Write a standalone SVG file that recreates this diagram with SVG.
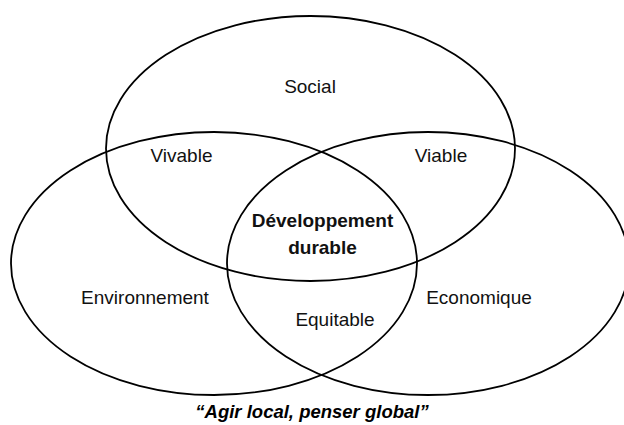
<svg xmlns="http://www.w3.org/2000/svg" width="624" height="425" viewBox="0 0 624 425">
  <style>
    .ring { fill: none; stroke: #000; stroke-width: 1.8; }
    .lbl { font-family: "Liberation Sans", Arial, sans-serif; font-size: 19px; fill: #111; text-anchor: middle; }
    .bold { font-weight: bold; }
    .quote { font-family: "Liberation Sans", Arial, sans-serif; font-size: 18.5px; font-weight: bold; font-style: italic; fill: #000; text-anchor: middle; }
  </style>
  <rect width="624" height="425" fill="#fff"/>
  <g id="social">
    <ellipse class="ring" cx="310.5" cy="148.5" rx="204.5" ry="132.5"/>
    <text class="lbl" x="310" y="93">Social</text>
  </g>
  <g id="environnement">
    <ellipse class="ring" cx="214" cy="263.5" rx="203" ry="131.5"/>
    <text class="lbl" x="145" y="304">Environnement</text>
  </g>
  <g id="economique">
    <ellipse class="ring" cx="428" cy="263.5" rx="201" ry="131.5"/>
    <text class="lbl" x="479" y="304">Economique</text>
  </g>
  <g id="vivable">
    <text class="lbl" x="181.5" y="162">Vivable</text>
  </g>
  <g id="viable">
    <text class="lbl" x="441" y="162">Viable</text>
  </g>
  <g id="equitable">
    <text class="lbl" x="335" y="325.5">Equitable</text>
  </g>
  <g id="developpement-durable">
    <text class="lbl bold" x="322.5" y="227">Développement</text>
    <text class="lbl bold" x="322.5" y="253.5">durable</text>
  </g>
  <g id="devise">
    <text class="quote" x="312" y="418">“Agir local, penser global”</text>
  </g>
</svg>
